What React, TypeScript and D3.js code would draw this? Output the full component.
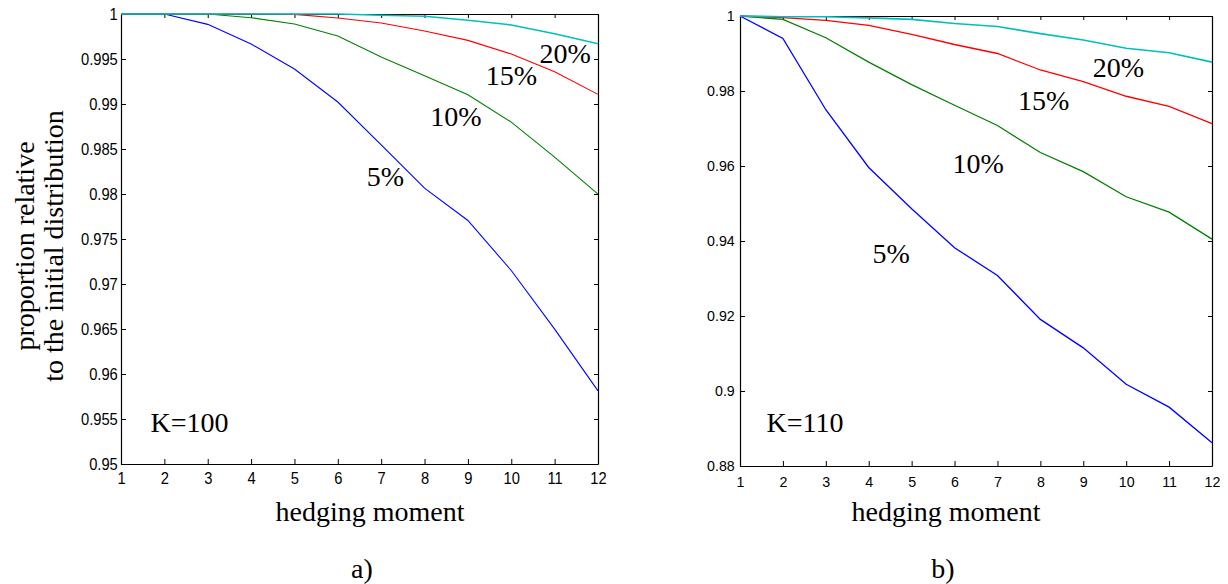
import * as d3 from 'd3';
import React, { useEffect, useRef } from 'react';

const moments = [1, 2, 3, 4, 5, 6, 7, 8, 9, 10, 11, 12];

// K=100 panel, one array per hedging level
const k100_5 = [1, 1, 0.99885, 0.99666, 0.99389, 0.99022, 0.98547, 0.98065, 0.97706, 0.9715, 0.96498, 0.95812];
const k100_10 = [1, 1, 1, 0.99959, 0.99889, 0.99755, 0.99522, 0.99314, 0.99103, 0.98799, 0.9841, 0.97999];
const k100_15 = [1, 1, 1, 1, 0.99996, 0.99956, 0.999, 0.99811, 0.99707, 0.99555, 0.99359, 0.99107];
const k100_20 = [1, 1, 1, 1, 1, 1, 0.99985, 0.99974, 0.9993, 0.99878, 0.99781, 0.9967];

// K=110 panel
const k110_5 = [1, 0.994, 0.975, 0.9596, 0.9486, 0.9382, 0.9308, 0.9191, 0.9115, 0.9018, 0.8957, 0.8862];
const k110_10 = [1, 0.9991, 0.9942, 0.9877, 0.9817, 0.9762, 0.9708, 0.9636, 0.9585, 0.9518, 0.9477, 0.9405];
const k110_15 = [1, 0.99956, 0.99885, 0.9975, 0.9951, 0.9924, 0.99, 0.9856, 0.9825, 0.9786, 0.9759, 0.9713];
const k110_20 = [1, 0.9998, 0.9998, 0.9995, 0.9991, 0.998, 0.9972, 0.9953, 0.9936, 0.9914, 0.9902, 0.9877];

const k100Ticks = [1, 0.995, 0.99, 0.985, 0.98, 0.975, 0.97, 0.965, 0.96, 0.955, 0.95];
const k110Ticks = [1, 0.98, 0.96, 0.94, 0.92, 0.9, 0.88];

const levels = ['5%', '10%', '15%', '20%'];
const colors = ['#0000ff', '#008000', '#ff0000', '#00bfbf'];

// where the level labels sit, in data units (moment, proportion)
const k100LabelAt = [[6.67, 0.98089], [8.13, 0.98756], [9.41, 0.99211], [10.65, 0.99456]];
const k110LabelAt = [[4.09, 0.93421], [5.95, 0.95821], [7.48, 0.97493], [9.22, 0.98381]];

const serif = '"Liberation Serif", "Times New Roman", serif';
const sans = '"Liberation Sans", Arial, sans-serif';

const panels = [
    {
        box: { left: 121, right: 598, top: 14, bottom: 464 },
        yDomain: [0.95, 1],
        yTicks: k100Ticks,
        series: [k100_5, k100_10, k100_15, k100_20],
        labelAt: k100LabelAt,
        k: 'K=100',
        kAt: [1.68, 0.95359],
        lineWidth: 1.1,
        tickFont: 16,
        tickSx: 0.92,
        yPad: 3.5,
        xPad: 8.5,
        title: { x: 370, y: 521 },
        caption: { text: 'a)', x: 362, y: 578 },
    },
    {
        box: { left: 740, right: 1212, top: 16, bottom: 466 },
        yDomain: [0.88, 1],
        yTicks: k110Ticks,
        series: [k110_5, k110_10, k110_15, k110_20],
        labelAt: k110LabelAt,
        k: 'K=110',
        kAt: [1.62, 0.88915],
        lineWidth: 1.3,
        tickFont: 15,
        tickSx: 0.95,
        yPad: 5.5,
        xPad: 10.5,
        title: { x: 946, y: 521 },
        caption: { text: 'b)', x: 943, y: 578 },
    },
];

const fmt = (d: any) => String(+(+d).toFixed(3));

function drawPanel(svg: any, p: any) {
    const x = d3.scaleLinear().domain([1, 12]).range([p.box.left, p.box.right]);
    const y = d3.scaleLinear().domain(p.yDomain).range([p.box.bottom, p.box.top]);
    const g = svg.append('g');

    const styleAxis = (a: any) => {
        a.select('.domain').attr('stroke', '#000').attr('stroke-width', 1.2);
        a.selectAll('.tick line').attr('stroke', '#000').attr('stroke-width', 1);
        a.selectAll('text')
            .attr('fill', '#000')
            .attr('font-family', sans)
            .attr('font-size', p.tickFont)
            .attr('transform', `scale(${p.tickSx},1)`);
    };

    g.append('g')
        .attr('transform', `translate(0,${p.box.bottom})`)
        .call(d3.axisBottom(x).tickValues(moments).tickSize(-5).tickSizeOuter(0).tickPadding(p.xPad).tickFormat(fmt))
        .call(styleAxis);
    g.append('g')
        .attr('transform', `translate(${p.box.left},0)`)
        .call(d3.axisLeft(y).tickValues(p.yTicks).tickSize(-5).tickSizeOuter(0).tickPadding(p.yPad).tickFormat(fmt))
        .call(styleAxis);
    g.append('g')
        .attr('transform', `translate(0,${p.box.top})`)
        .call(d3.axisTop(x).tickValues(moments).tickSize(-4).tickSizeOuter(0).tickFormat(() => ''))
        .call(styleAxis);
    g.append('g')
        .attr('transform', `translate(${p.box.right},0)`)
        .call(d3.axisRight(y).tickValues(p.yTicks).tickSize(-4).tickSizeOuter(0).tickFormat(() => ''))
        .call(styleAxis);

    const line = d3
        .line<number>()
        .x((_, i) => x(moments[i]))
        .y((d) => y(d));

    p.series.forEach((s: number[], i: number) => {
        g.append('path')
            .attr('d', line(s))
            .attr('fill', 'none')
            .attr('stroke', colors[i])
            .attr('stroke-width', i === 3 ? p.lineWidth + 0.4 : p.lineWidth);
    });

    levels.forEach((lv, i) => {
        g.append('text')
            .attr('x', x(p.labelAt[i][0]))
            .attr('y', y(p.labelAt[i][1]))
            .attr('font-family', serif)
            .attr('font-size', 28)
            .attr('fill', '#000')
            .text(lv);
    });

    g.append('text')
        .attr('x', x(p.kAt[0]))
        .attr('y', y(p.kAt[1]))
        .attr('font-family', serif)
        .attr('font-size', 28)
        .attr('fill', '#000')
        .text(p.k);

    g.append('text')
        .attr('x', p.title.x)
        .attr('y', p.title.y)
        .attr('text-anchor', 'middle')
        .attr('font-family', serif)
        .attr('font-size', 28)
        .attr('fill', '#000')
        .text('hedging moment');

    g.append('text')
        .attr('x', p.caption.x)
        .attr('y', p.caption.y)
        .attr('text-anchor', 'middle')
        .attr('font-family', serif)
        .attr('font-size', 28)
        .attr('fill', '#000')
        .text(p.caption.text);
}

const App = () => {
    const svgRef = useRef<SVGSVGElement | null>(null);

    useEffect(() => {
        const svg = d3.select(svgRef.current);
        svg.selectAll('*').remove();
        panels.forEach((p) => drawPanel(svg, p));

        // y title, only on the left panel
        const yt = svg
            .append('text')
            .attr('transform', 'translate(0,246) rotate(-90)')
            .attr('text-anchor', 'middle')
            .attr('font-family', serif)
            .attr('font-size', 28)
            .attr('fill', '#000');
        yt.append('tspan').attr('x', 0).attr('y', 33.5).text('proportion relative');
        yt.append('tspan').attr('x', 0).attr('y', 62.5).text('to the initial distribution');
    }, []);

    return (
        <svg
            ref={svgRef}
            width={1228}
            height={584}
            style={{ position: 'absolute', left: 0, top: 0, background: '#fff' }}
        />
    );
};

export default App;
